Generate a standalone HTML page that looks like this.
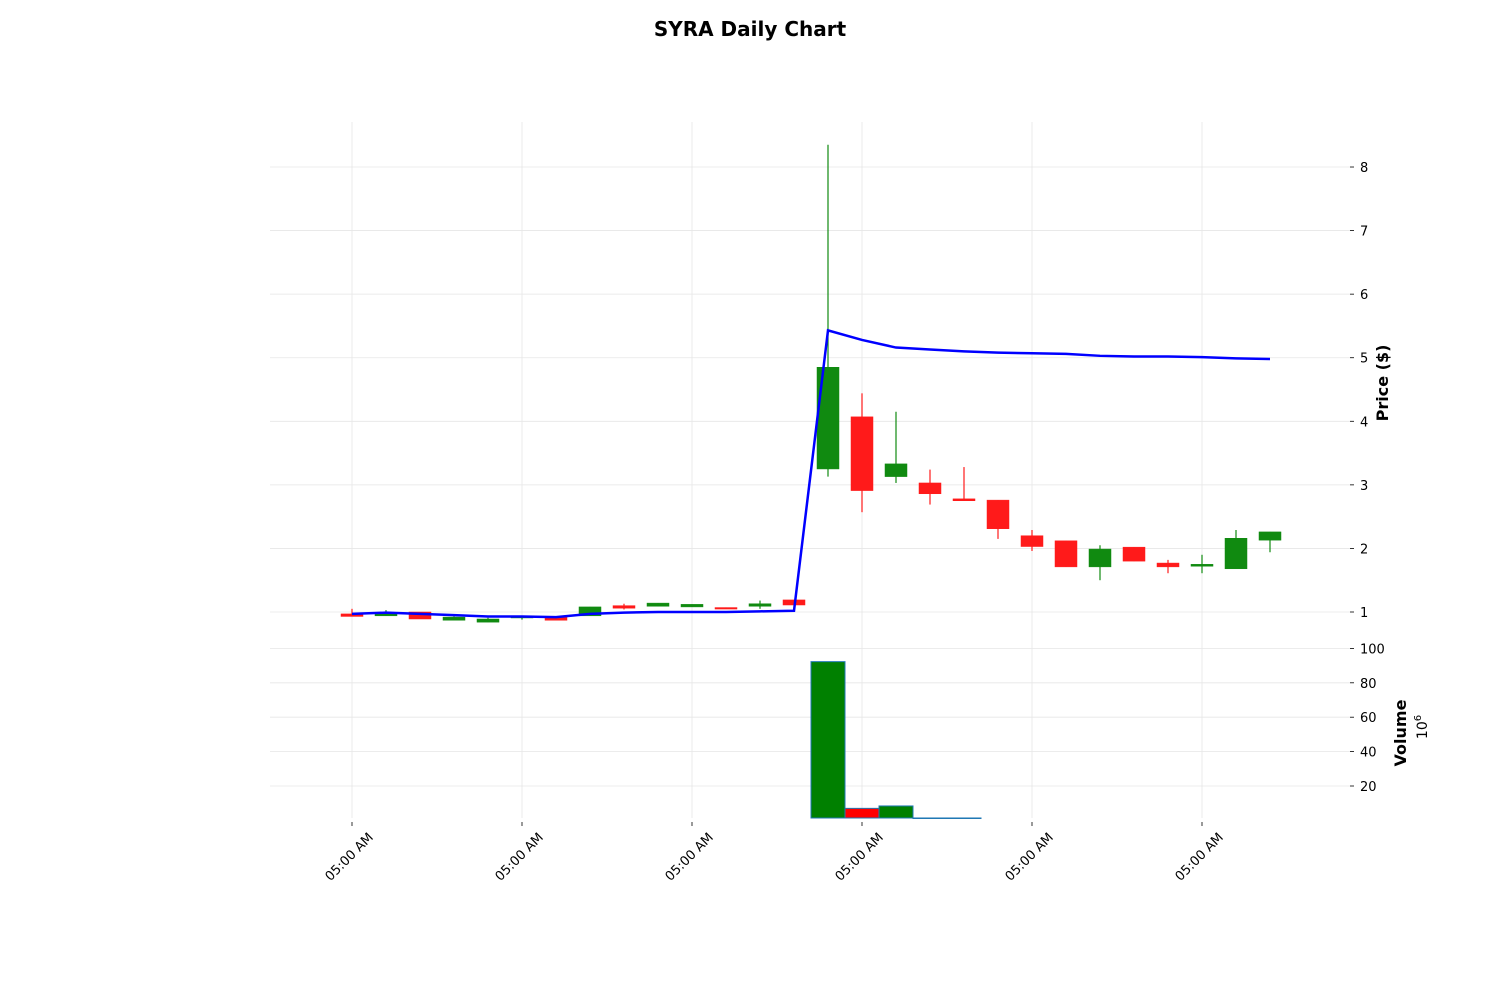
<!DOCTYPE html>
<html><head><meta charset="utf-8"><style>
body{margin:0;background:#fff;}
svg text{font-family:"DejaVu Sans","Liberation Sans",sans-serif;}
</style></head><body>
<svg id="chart" width="1500" height="1000" xmlns="http://www.w3.org/2000/svg">
<rect width="1500" height="1000" fill="#fff"/>
<text x="750" y="36" text-anchor="middle" font-size="20" font-weight="bold">SYRA Daily Chart</text>
<g id="grid"></g>
<g id="vol"></g>
<g id="candles"></g>
<g id="ma"></g>
<g id="axes"></g>
<text transform="translate(1388,383) rotate(-90)" text-anchor="middle" font-size="16" font-weight="bold">Price ($)</text>
<text transform="translate(1406,733) rotate(-90)" text-anchor="middle" font-size="16" font-weight="bold">Volume</text>
<text transform="translate(1427,727) rotate(-90)" text-anchor="middle" font-size="14">10<tspan dy="-6" font-size="10">6</tspan></text>
</svg>
<script>
const opens  = [0.97,0.94,1.00,0.87,0.84,0.91,0.92,0.94,1.10,1.09,1.08,1.07,1.09,1.19,3.25,4.07,3.13,3.03,2.78,2.76,2.20,2.12,1.71,2.02,1.77,1.72,1.68,2.13];
const closes = [0.93,0.99,0.89,0.92,0.89,0.93,0.87,1.08,1.06,1.14,1.12,1.06,1.13,1.11,4.85,2.91,3.33,2.86,2.75,2.31,2.03,1.71,1.99,1.80,1.71,1.75,2.16,2.26];
const highs  = [1.05,1.03,1.00,0.93,0.91,0.93,0.92,1.08,1.13,1.14,1.12,1.07,1.18,1.19,8.35,4.44,4.15,3.24,3.28,2.76,2.29,2.12,2.05,2.02,1.82,1.90,2.29,2.26];
const lows   = [0.93,0.94,0.89,0.87,0.84,0.88,0.87,0.94,1.04,1.09,1.08,1.06,1.05,1.11,3.13,2.57,3.03,2.69,2.75,2.15,1.96,1.71,1.50,1.80,1.61,1.61,1.68,1.94];
const maLine = [0.97,0.99,0.97,0.95,0.93,0.93,0.92,0.97,0.99,1.00,1.00,1.00,1.01,1.02,5.43,5.28,5.16,5.13,5.10,5.08,5.07,5.06,5.03,5.02,5.02,5.01,4.99,4.98];
const volumes= [0.3,0.3,0.3,0.3,0.3,0.3,0.3,0.3,0.3,0.3,0.3,0.3,0.3,0.3,92.3,7.0,8.4,1.4,1.4,0.3,0.3,0.3,0.3,0.3,0.3,0.3,0.3,0.3];
const priceTicks = [1,2,3,4,5,6,7,8];
const volTicks = [20,40,60,80,100];
const xTickIdx = [0,5,10,15,20,25];
const xTickLabels = ["05:00 AM","05:00 AM","05:00 AM","05:00 AM","05:00 AM","05:00 AM"];

const NS="http://www.w3.org/2000/svg";
const X = i => 352 + i*34;
const Y = p => 612 - (p-1)*63.57;
const V = v => 820.4 - v*1.72;
const VMIN = 1.2;
function mk(parent,tag,attrs){const e=document.createElementNS(NS,tag);for(const k in attrs)e.setAttribute(k,attrs[k]);document.getElementById(parent).appendChild(e);return e;}

priceTicks.forEach(t=>{
  const l=mk('grid','line',{x1:270,x2:1350,y1:Y(t),y2:Y(t),stroke:'#e6e6e6','stroke-width':0.8});
  
  
  const tk=mk('axes','line',{x1:1350,x2:1354,y1:Y(t),y2:Y(t),stroke:'#000','stroke-width':0.8});
  
  
  const tx=mk('axes','text',{x:1360,y:Y(t)+5,'font-size':13});
  
  
  tx.textContent=t;
});
volTicks.forEach(t=>{
  const l=mk('grid','line',{x1:270,x2:1350,y1:V(t),y2:V(t),stroke:'#e6e6e6','stroke-width':0.8});
  
  
  const tk=mk('axes','line',{x1:1350,x2:1354,y1:V(t),y2:V(t),stroke:'#000','stroke-width':0.8});
  
  
  const tx=mk('axes','text',{x:1360,y:V(t)+5,'font-size':13});
  
  
  tx.textContent=t;
});
xTickIdx.forEach((i,k)=>{
  const l=mk('grid','line',{x1:X(i),x2:X(i),y1:122,y2:818,stroke:'#e6e6e6','stroke-width':0.8});
  
  
  const tk=mk('axes','line',{x1:X(i),x2:X(i),y1:822,y2:826,stroke:'#000','stroke-width':0.8});
  
  
  const tx=mk('axes','text',{transform:`translate(${X(i)+22},${838}) rotate(-45)`,'text-anchor':'end','font-size':13});
  
  
  tx.textContent=xTickLabels[k];
});

volumes.forEach((v,i)=>{
  if(v<VMIN) return;
  const up=closes[i]>=opens[i];
  const top=Math.min(V(v),818);
  const r=mk('vol','rect',{x:X(i)-17,y:top,width:34,height:Math.max(818-top,0.5),fill:up?'#008000':'#ff0000',stroke:'#1f77b4','stroke-width':1});
  
  
});

opens.forEach((o,i)=>{
  const c=closes[i], up=c>=o, col=up?'#108a10':'#ff1a1a';
  const w=mk('candles','line',{x1:X(i),x2:X(i),y1:Y(highs[i]),y2:Y(lows[i]),stroke:col,'stroke-width':1.2});
  
  
  const t=Y(Math.max(o,c)), b=Y(Math.min(o,c));
  const r=mk('candles','rect',{x:X(i)-11,y:t,width:22,height:Math.max(b-t,1.5),fill:col,stroke:col,'stroke-width':0.5});
  
  
});

const pl=mk('ma','polyline',{points:maLine.map((m,i)=>X(i)+','+Y(m)).join(' '),fill:'none',stroke:'#0000ff','stroke-width':2.5});


</script>
</body></html>
